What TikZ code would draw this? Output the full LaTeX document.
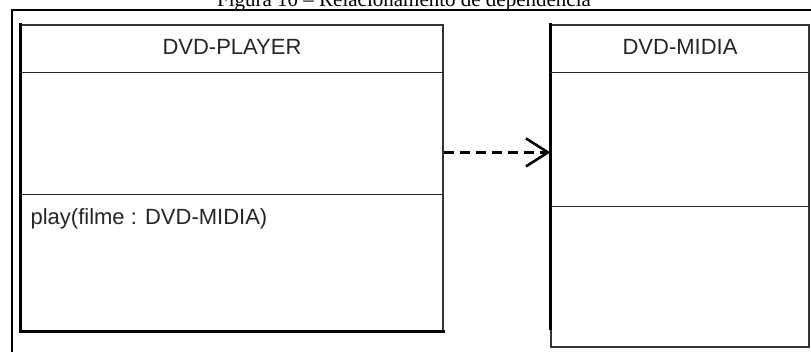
\documentclass[tikz,border=0pt]{standalone}
\usepackage{fontspec}
\setmainfont{Liberation Serif}
\newfontfamily\umlfont{Liberation Sans}
\usetikzlibrary{positioning, arrows.meta}

\begin{document}
\begin{tikzpicture}[x=1pt, y=1pt, >={Straight Barb[length=22pt,width=28pt]},
  classbox/.style={draw=black!80, line width=1.2pt, rectangle, inner sep=0pt},
  divider/.style={draw=black!85, line width=1.2pt},
  shadowedge/.style={line width=3pt, line cap=rect},
  umltext/.style={font=\umlfont\fontsize{22}{26}\selectfont, text=black!85, inner sep=0pt}]
  \useasboundingbox (0,0) rectangle (811,-352);
  \clip (0,0) rectangle (811,-352);
  \fill[white] (0,0) rectangle (811,-352);

  % caption above the frame
  \node[anchor=base, font=\fontsize{21}{25}\selectfont, inner sep=0pt] (caption) at (404,-7)
    {Figura 10 -- Relacionamento de dependência};

  % outer frame
  \draw[line width=1.6pt] (12,-370) -- (12,-10) -- (830,-10);

  % class boxes
  \node[classbox, minimum width=422pt, minimum height=306pt] (player) at (232,-178) {};
  \node[classbox, minimum width=258pt, minimum height=322pt] (midia) at (680,-186) {};

  % thick edges
  \draw[shadowedge] (player.north west) -- (player.south west) -- (player.south east);
  \draw[shadowedge] (midia.north west) -- ([yshift=19pt]midia.south west);

  % compartments
  \draw[divider] ([yshift=-48pt]player.north west) -- ([yshift=-48pt]player.north east);
  \draw[divider] ([yshift=-170pt]player.north west) -- ([yshift=-170pt]player.north east);
  \draw[divider] ([yshift=-48pt]midia.north west) -- ([yshift=-48pt]midia.north east);
  \draw[divider] ([yshift=-182pt]midia.north west) -- ([yshift=-182pt]midia.north east);

  % names and operation
  \node[umltext, anchor=base] (playername) at ([yshift=-30pt]player.north) {DVD-PLAYER};
  \node[umltext, anchor=base] (midianame) at ([yshift=-30pt]midia.north) {DVD-MIDIA};
  \node[umltext, anchor=base west] (playop) at ([xshift=10pt, yshift=-200pt]player.north west)
    {play(filme : DVD-MIDIA)};

  % dependency
  \coordinate (dep) at ([yshift=-128pt]player.north east);
  \draw[->, line width=2.6pt, dash pattern=on 10pt off 6pt] (dep) -- (midia.west |- dep);
\end{tikzpicture}
\end{document}
